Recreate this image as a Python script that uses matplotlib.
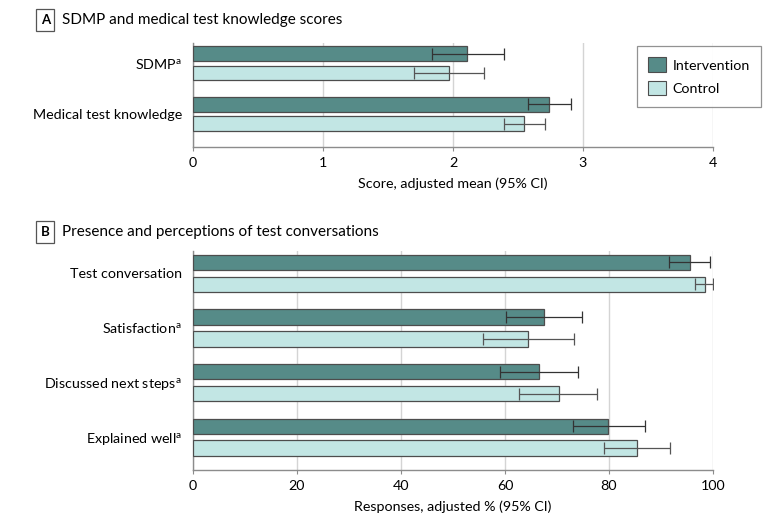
import numpy as np
import matplotlib
matplotlib.use("Agg")
import matplotlib.pyplot as plt
from matplotlib.patches import Patch

plt.rcParams['font.family'] = ['Lato', 'DejaVu Sans']

# panel A data
a_labels = ["SDMP$^{\\mathregular{a}}$", "Medical test knowledge"]
a_int = [2.11, 2.74]
a_int_lo = [1.84, 2.58]
a_int_hi = [2.39, 2.91]
a_ctl = [1.97, 2.55]
a_ctl_lo = [1.70, 2.39]
a_ctl_hi = [2.24, 2.71]

# panel B data
b_labels = ["Test conversation", "Satisfaction$^{\\mathregular{a}}$",
            "Discussed next steps$^{\\mathregular{a}}$", "Explained well$^{\\mathregular{a}}$"]
b_int = [95.5, 67.5, 66.6, 79.9]
b_int_lo = [91.5, 60.2, 59.1, 73.0]
b_int_hi = [99.5, 74.8, 74.0, 86.9]
b_ctl = [98.4, 64.5, 70.3, 85.4]
b_ctl_lo = [96.5, 55.7, 62.7, 79.1]
b_ctl_hi = [100.0, 73.3, 77.7, 91.7]

C_INT = "#568b88"
C_CTL = "#c2e6e4"
EDGE = "#4d4d4d"
GRID = "#d4d4d4"
SPINE = "#8c8c8c"
FS = 10.3


def draw_panel(ax, labels, vi, vi_lo, vi_hi, vc, vc_lo, vc_hi, h, off):
    y = np.arange(len(labels))
    vi = np.array(vi); vc = np.array(vc)
    ax.barh(y - off, vi, height=h, color=C_INT, edgecolor=EDGE, linewidth=0.9, zorder=3)
    ax.barh(y + off, vc, height=h, color=C_CTL, edgecolor=EDGE, linewidth=0.9, zorder=3)
    ax.errorbar(vi, y - off, xerr=[vi - np.array(vi_lo), np.array(vi_hi) - vi],
                fmt='none', ecolor='#333333', elinewidth=0.9, capsize=4, capthick=0.9, zorder=4)
    ax.errorbar(vc, y + off, xerr=[vc - np.array(vc_lo), np.array(vc_hi) - vc],
                fmt='none', ecolor='#555555', elinewidth=0.9, capsize=4, capthick=0.9, zorder=4)
    ax.set_yticks(y)
    ax.set_yticklabels(labels, fontsize=FS)
    ax.tick_params(axis='y', length=0, pad=8)
    ax.tick_params(axis='x', length=3, color=SPINE, labelsize=FS, pad=4)
    for s in ['top', 'right']:
        ax.spines[s].set_visible(False)
    for s in ['left', 'bottom']:
        ax.spines[s].set_color(SPINE)
        ax.spines[s].set_linewidth(1.0)
    ax.grid(axis='x', color=GRID, linewidth=1.0, zorder=0)
    ax.set_axisbelow(True)


fig = plt.figure(figsize=(7.8, 5.26), dpi=100)

axA = fig.add_axes([0.2474, 0.7205, 0.6667, 0.1977])
draw_panel(axA, a_labels, a_int, a_int_lo, a_int_hi, a_ctl, a_ctl_lo, a_ctl_hi, 0.29, 0.19)
axA.set_xlim(0, 4)
axA.set_xticks([0, 1, 2, 3, 4])
axA.set_ylim(1.65, -0.40)
axA.set_xlabel("Score, adjusted mean (95% CI)", fontsize=FS, labelpad=6)

axB = fig.add_axes([0.2474, 0.1065, 0.6667, 0.4163])
draw_panel(axB, b_labels, b_int, b_int_lo, b_int_hi, b_ctl, b_ctl_lo, b_ctl_hi, 0.28, 0.20)
axB.set_xlim(0, 100)
axB.set_xticks([0, 20, 40, 60, 80, 100])
axB.set_ylim(3.60, -0.41)
axB.set_xlabel("Responses, adjusted % (95% CI)", fontsize=FS, labelpad=6)

# panel titles with boxed letters
box = dict(boxstyle='square,pad=0.35', facecolor='white', edgecolor='#555555', linewidth=0.9)
fig.text(0.058, 0.962, "A", fontsize=9.5, fontweight='bold', ha='center', va='center', bbox=box)
fig.text(0.079, 0.962, "SDMP and medical test knowledge scores", fontsize=11, va='center')
fig.text(0.058, 0.559, "B", fontsize=9.5, fontweight='bold', ha='center', va='center', bbox=box)
fig.text(0.079, 0.559, "Presence and perceptions of test conversations", fontsize=11, va='center')

handles = [Patch(facecolor=C_INT, edgecolor=EDGE, linewidth=0.8, label="Intervention"),
           Patch(facecolor=C_CTL, edgecolor=EDGE, linewidth=0.8, label="Control")]
leg = fig.legend(handles=handles, loc='upper left', bbox_to_anchor=(0.8167, 0.9125),
                 fontsize=FS, frameon=True, fancybox=False, handlelength=1.2,
                 handleheight=1.2, borderpad=0.8, labelspacing=0.6, handletextpad=0.5,
                 borderaxespad=0)
leg.get_frame().set_edgecolor('#777777')
leg.get_frame().set_linewidth(0.9)

fig.savefig("out.png", dpi=100)
